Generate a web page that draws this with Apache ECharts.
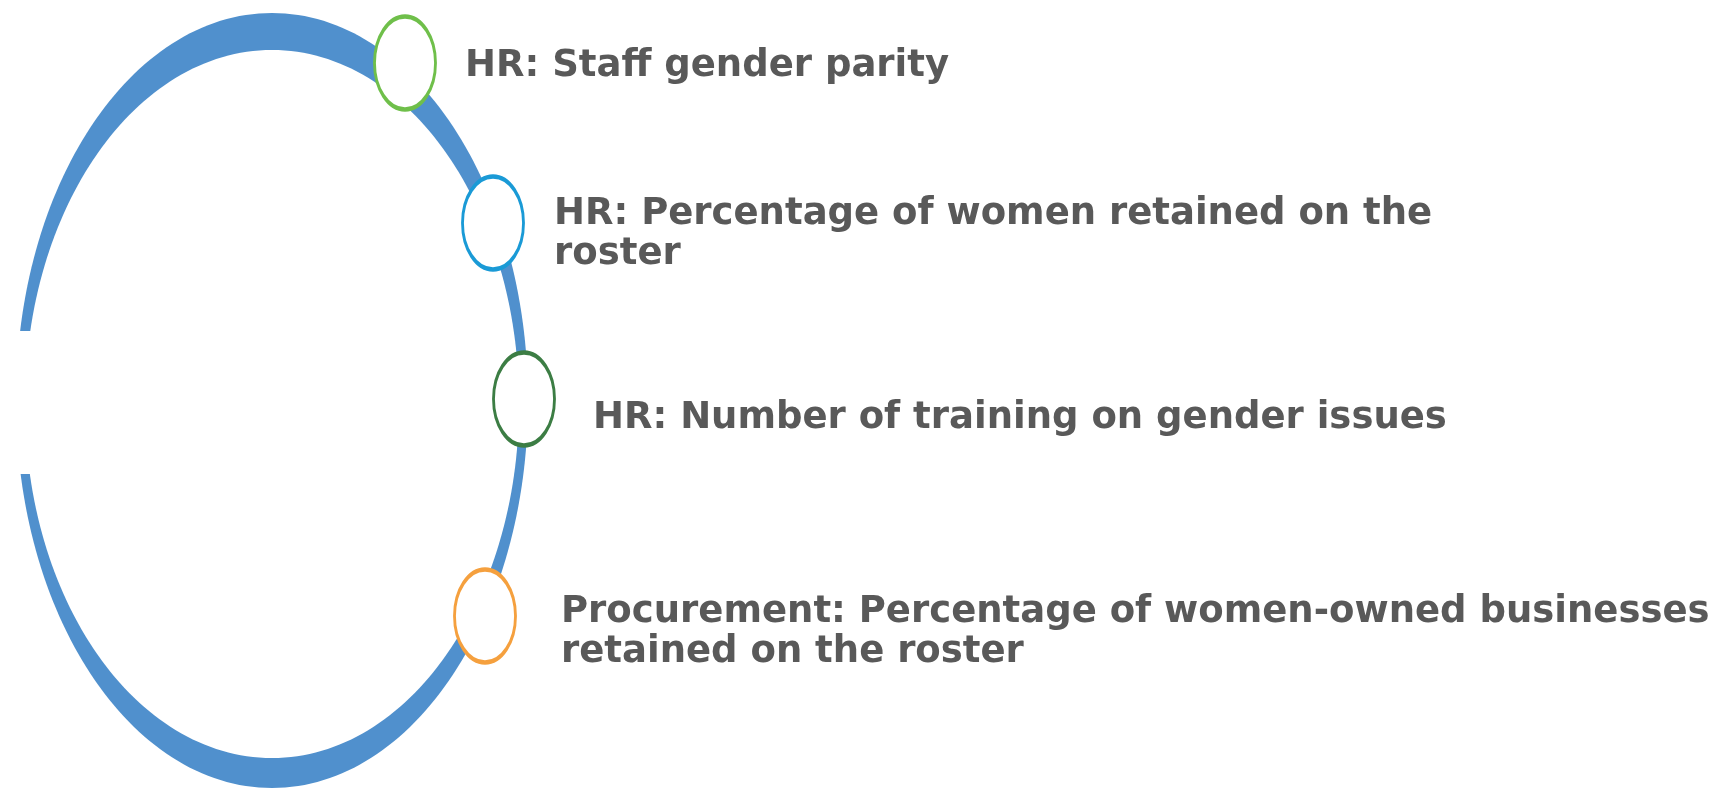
<!DOCTYPE html>
<html>
<head>
<meta charset="utf-8">
<title>Gender indicators</title>
<script src="https://cdn.jsdelivr.net/npm/echarts@6/dist/echarts.min.js"></script>
<style>
  html, body { margin: 0; padding: 0; background: #ffffff; }
  #chart { width: 1721px; height: 790px; }
</style>
</head>
<body>
<div id="chart"></div>
<script>
// 指标名称（每个节点一条）
var items = [
    'HR: Staff gender parity',
    'HR: Percentage of women retained on the\nroster',
    'HR: Number of training on gender issues',
    'Procurement: Percentage of women-owned businesses\nretained on the roster'
];
var itemColors = ['#6fbf4a', '#1a9ad6', '#3c7d44', '#f5a03e'];

// 节点在圆环上的位置（图内坐标，0-1721 / 0-790）
var nodeX = [405, 493, 524, 485];
var nodeY = [63, 223, 399, 616];

// 文字起点
var textX = [465, 554, 593, 561];
var textY = [66, 234, 418, 632];

// 圆环：[cx, cy, 外 rx, 外 ry, 内 rx, 内 ry]，以及左侧缺口 [x0, y0, x1, y1]
var ring = [272, 400.5, 256, 387.5, 247, 354];
var ringGap = [0, 331, 70, 474];

var chart = echarts.init(document.getElementById('chart'));

var option = {
    backgroundColor: '#ffffff',
    animation: false,
    grid: { left: 0, right: 0, top: 0, bottom: 0 },
    xAxis: { type: 'value', min: 0, max: 1721, show: false },
    yAxis: { type: 'value', min: 0, max: 790, inverse: true, show: false },
    series: [
        {
            // 蓝色椭圆环
            type: 'custom',
            silent: true,
            data: [ring],
            renderItem: function (params, api) {
                var c = api.coord([api.value(0), api.value(1)]);
                var outer = api.size([api.value(2), api.value(3)]);
                var inner = api.size([api.value(4), api.value(5)]);
                // 内圈略微下移，上粗下细
                var ci = api.coord([api.value(0), api.value(1) + 3.5]);
                var g0 = api.coord([ringGap[0], ringGap[1]]);
                var g1 = api.coord([ringGap[2], ringGap[3]]);
                return {
                    type: 'group',
                    children: [
                        {
                            type: 'ellipse',
                            shape: { cx: c[0], cy: c[1], rx: Math.abs(outer[0]), ry: Math.abs(outer[1]) },
                            style: { fill: '#5090cd' }
                        },
                        {
                            type: 'ellipse',
                            shape: { cx: ci[0], cy: ci[1], rx: Math.abs(inner[0]), ry: Math.abs(inner[1]) },
                            style: { fill: '#ffffff' }
                        },
                        {
                            type: 'rect',
                            shape: { x: g0[0], y: g0[1], width: g1[0] - g0[0], height: g1[1] - g0[1] },
                            style: { fill: '#ffffff' }
                        }
                    ]
                };
            }
        },
        {
            // 节点椭圆
            type: 'scatter',
            silent: true,
            symbol: 'circle',
            symbolSize: [61, 93],
            data: nodeX.map(function (x, i) {
                return {
                    value: [x, nodeY[i]],
                    itemStyle: { color: '#ffffff', borderColor: itemColors[i], borderWidth: 3.5, opacity: 1 }
                };
            })
        },
        {
            // 文字
            type: 'scatter',
            silent: true,
            symbolSize: 0,
            itemStyle: { opacity: 1 },
            data: textX.map(function (x, i) {
                return { value: [x, textY[i]], name: items[i] };
            }),
            label: {
                show: true,
                position: 'right',
                distance: 0,
                formatter: '{b}',
                color: '#595959',
                fontFamily: 'DejaVu Sans',
                fontWeight: 'bold',
                fontSize: 37,
                lineHeight: 40
            }
        }
    ]
};

chart.setOption(option);
</script>
</body>
</html>
